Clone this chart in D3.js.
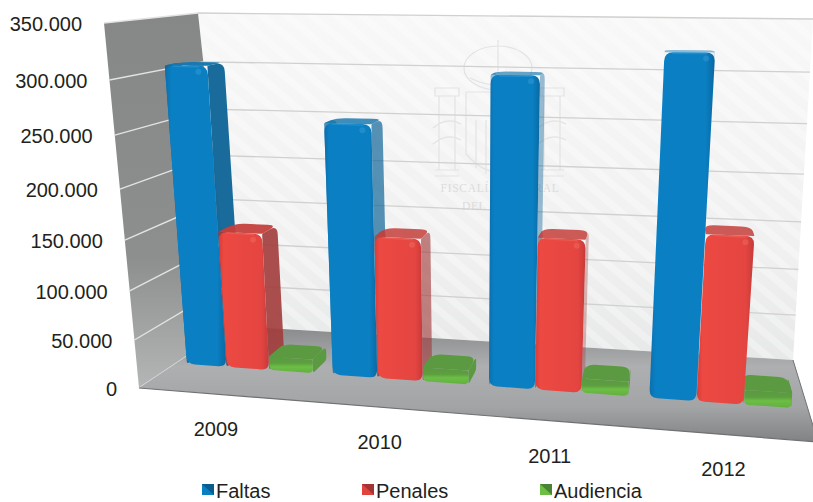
<!DOCTYPE html>
<html><head><meta charset="utf-8">
<script src="https://cdn.jsdelivr.net/npm/d3@7"></script>
<style>html,body{margin:0;padding:0;background:#fff}svg{display:block}text{font-family:"Liberation Sans",Arial,sans-serif}</style>
</head><body><div id="chart"></div>
<script>
const years = ["2009","2010","2011","2012"];
const seriesNames = ["Faltas","Penales","Audiencia"];
const faltas = [307000,255000,302000,323000];
const penales = [144000,146000,152000,162000];
const audiencia = [14500,14500,14500,14500];
const yTicks = [0,50000,100000,150000,200000,250000,300000,350000];
const yTickLabels = ["0","50.000","100.000","150.000","200.000","250.000","300.000","350.000"];

const W=813,H=502;
const svg=d3.select("#chart").append("svg").attr("width",W).attr("height",H).attr("viewBox",[0,0,W,H]);
const defs=svg.append("defs");

// perspective box corners
const C={flb:[139,388],flt:[104,23],blb:[232,326],blt:[198,13],frb:[818,442],frt:[843,22],brb:[793,360],brt:[813,19]};
const lerp=(a,b,t)=>[a[0]+(b[0]-a[0])*t,a[1]+(b[1]-a[1])*t];
function P(u,v,d,lean=0){
  const fb=lerp(C.flb,C.frb,u),ft=lerp(C.flt,C.frt,u),bb=lerp(C.blb,C.brb,u),bt=lerp(C.blt,C.brt,u);
  const b=lerp(fb,bb,d),t=lerp(ft,bt,d),p=lerp(b,t,v);
  return [p[0]+lean*v,p[1]];
}
// vertical foreshortening of the wall
const yScale=d3.scaleLinear().domain(yTicks).range([0,0.1315,0.2658,0.405,0.545,0.693,0.844,1]);
const slot=d3.scalePow().exponent(1.05).domain([0,4]).range([0.017,1.007]);
const xGroup=d3.scaleOrdinal().domain(years).range(d3.range(years.length));
const xSeries=d3.scaleBand().domain(seriesNames).range([0,0.87]).paddingInner(0.01);
const LEAN=8,D0=0.4,D1=0.6;

const poly=pts=>"M"+pts.map(p=>p.join(",")).join("L")+"Z";
function rounded(pts,radii){
  const path=d3.path(),n=pts.length;
  pts.forEach((p,i)=>{
    const a=pts[(i+n-1)%n],b=pts[(i+1)%n],r=Array.isArray(radii)?radii[i]:radii;
    const la=Math.hypot(a[0]-p[0],a[1]-p[1]),lb=Math.hypot(b[0]-p[0],b[1]-p[1]);
    const ra=Math.min(r,la/2)/la,rb=Math.min(r,lb/2)/lb;
    const s=[p[0]+(a[0]-p[0])*ra,p[1]+(a[1]-p[1])*ra],e=[p[0]+(b[0]-p[0])*rb,p[1]+(b[1]-p[1])*rb];
    if(i===0)path.moveTo(s[0],s[1]);else path.lineTo(s[0],s[1]);
    path.quadraticCurveTo(p[0],p[1],e[0],e[1]);
  });
  path.closePath();return path.toString();
}
function grad(id,stops,x2=1,y2=0){
  const g=defs.append("linearGradient").attr("id",id).attr("x1",0).attr("y1",0).attr("x2",x2).attr("y2",y2);
  stops.forEach(s=>g.append("stop").attr("offset",s[0]).attr("stop-color",s[1]));
}
grad("gBlue",[[0,"#0c6fae"],[0.1,"#0a80c4"],[0.86,"#0a7fc2"],[1,"#0b68a2"]]);
grad("gRed",[[0,"#d83c3a"],[0.1,"#ec4942"],[0.85,"#e54540"],[1,"#c53a3a"]]);
grad("gGreen",[[0,"#5b9a40"],[0.4,"#5d9e40"],[0.62,"#6cbe45"],[1,"#62b03f"]],0,1);
grad("gFloor",[[0,"#87898a"],[0.35,"#adafb0"],[0.7,"#a2a4a5"],[1,"#808283"]],0,1);
grad("gLeft",[[0,"#868888"],[0.65,"#8d8f8f"],[1,"#b4b6b6"]],0,1);
grad("gBack",[[0,"#f8f8f8"],[0.7,"#f0f0f0"],[1,"#e7e8e8"]],0,1);
const hatch=defs.append("pattern").attr("id","hatch").attr("width",16).attr("height",16).attr("patternUnits","userSpaceOnUse").attr("patternTransform","rotate(40)");
hatch.append("rect").attr("width",16).attr("height",7).attr("fill","#ffffff").attr("opacity",0.3);

// back wall
const backPts=[C.blt,C.brt,C.brb,C.blb];
svg.append("path").attr("d",poly(backPts)).attr("fill","url(#gBack)");
svg.append("path").attr("d",poly(backPts)).attr("fill","url(#hatch)");

// watermark
const wm=svg.append("g").attr("fill","none").attr("stroke","#e3e3e3").attr("stroke-width",1.2);
wm.append("ellipse").attr("cx",498).attr("cy",68).attr("rx",34).attr("ry",22);
wm.append("path").attr("d","M498 40V90M470 78Q498 92 526 78");
[[447,118],[552,118]].forEach(c=>{
  wm.append("path").attr("d",`M${c[0]-12} ${c[1]-30}h24v8h-24zM${c[0]-8} ${c[1]-22}v74M${c[0]+8} ${c[1]-22}v74M${c[0]-12} ${c[1]+52}h24M${c[0]-12} ${c[1]+58}h24M${c[0]-14} ${c[1]+10}q14 -12 28 -4M${c[0]-14} ${c[1]+26}q14 -12 28 -4`);
});
wm.append("path").attr("d","M466 92h64v62q-32 36 -64 0zM498 92v90M476 120v48M486 120v54M510 120v54M520 120v48");
const wmT=svg.append("g").attr("fill","#dcdcdc").attr("font-size",11.5).attr("text-anchor","middle").attr("letter-spacing",0.7);
wmT.append("text").attr("x",500).attr("y",192).style("font-family","Liberation Serif").text("FISCALÍA GENERAL");
wmT.append("text").attr("x",500).attr("y",210).style("font-family","Liberation Serif").text("DEL ESTADO");

// back gridlines
svg.append("g").selectAll("line").data(yTicks.slice(1)).join("line")
  .attr("x1",d=>P(0,yScale(d),1)[0]).attr("y1",d=>P(0,yScale(d),1)[1])
  .attr("x2",d=>P(1,yScale(d),1)[0]).attr("y2",d=>P(1,yScale(d),1)[1])
  .attr("stroke","#d0d0ce").attr("stroke-width",1.3);

// left wall
svg.append("path").attr("d",poly([C.flt,C.blt,C.blb,C.flb])).attr("fill","url(#gLeft)");
svg.append("g").selectAll("line").data(yTicks).join("line")
  .attr("x1",d=>P(0,yScale(d),0)[0]).attr("y1",d=>P(0,yScale(d),0)[1])
  .attr("x2",d=>P(0,yScale(d),1)[0]).attr("y2",d=>P(0,yScale(d),1)[1])
  .attr("stroke","#e2e3e2").attr("stroke-width",1.4);

// floor
svg.append("path").attr("d",poly([C.blb,C.brb,C.frb,C.flb])).attr("fill","url(#gFloor)");
svg.append("line").attr("x1",C.flb[0]).attr("y1",C.flb[1]).attr("x2",C.frb[0]).attr("y2",C.frb[1]).attr("stroke","#6f7172").attr("stroke-width",1.2);
svg.append("line").attr("x1",C.brb[0]).attr("y1",C.brb[1]).attr("x2",C.frb[0]).attr("y2",C.frb[1]).attr("stroke","#707273").attr("stroke-width",1);

// bars
const seriesValues=[faltas,penales,audiencia];
const styles={Faltas:{front:"url(#gBlue)",side:"#14689a",top:"#1877ad",glow:"#4aa6dc",minTop:0.45},
              Penales:{front:"url(#gRed)",side:"#a23c3c",top:"#c4403c",glow:"#f27a70",minTop:0.85},
              Audiencia:{front:"url(#gGreen)",side:"#5b9a40",top:"#5b9a40",glow:"#7acb55",minTop:1}};
const bars=[];
years.forEach(y=>seriesNames.forEach((s,i)=>{
  const g=xGroup(y),a=xSeries(s),w=xSeries.bandwidth();
  bars.push({y,s,value:seriesValues[i][g],u0:slot(g+a),u1:slot(g+a+w)});
}));
const backLayer=svg.append("g"),frontLayer=svg.append("g");
bars.forEach(b=>{
  const v=yScale(b.value),st=styles[b.s],green=b.s==="Audiencia";
  const sideOp=green?1:Math.max(0,1-b.u0*1.15);
  const topOp=Math.max(st.minTop,1-b.u0*0.7);
  const hull=(u)=>[P(u,0,D0),P(u,0,D1),P(u,v,D1,LEAN),P(u,v,D0,LEAN)];
  const sideR=green?[3,3,4,1]:[3,3,9,1];
  backLayer.append("path").attr("d",rounded(hull(b.u0),sideR)).attr("fill",st.side).attr("fill-opacity",sideOp);
  backLayer.append("path").attr("d",rounded(hull(b.u1),sideR)).attr("fill",st.side).attr("fill-opacity",sideOp);
  backLayer.append("path").attr("d",rounded([P(b.u0,v,D0,LEAN),P(b.u0,v,D1,LEAN),P(b.u1,v,D1,LEAN),P(b.u1,v,D0,LEAN)],green?[1,9,9,1]:[1,10,10,1]))
    .attr("fill",st.top).attr("fill-opacity",topOp);
  const f=[P(b.u0,0,D0),P(b.u0,v,D0,LEAN),P(b.u1,v,D0,LEAN),P(b.u1,0,D0)];
  frontLayer.append("path").attr("d",rounded(f,green?[5,2,2,5]:[8,9,9,8])).attr("fill",st.front);
  if(!green){
    const tl=P(b.u0,v,D0,LEAN),tr=P(b.u1,v,D0,LEAN);
    frontLayer.append("ellipse").attr("cx",tr[0]-9).attr("cy",tr[1]+6).attr("rx",3).attr("ry",3).attr("fill",st.glow).attr("opacity",0.35);
    frontLayer.append("path").attr("d",`M${tl[0]+8} ${tl[1]+1}L${tr[0]-8} ${tr[1]+1}`).attr("stroke",st.glow).attr("stroke-opacity",0.35).attr("stroke-width",1.5);
  }
});

// y tick labels
const txt="#231f20";
svg.append("g").selectAll("text").data(yTicks).join("text")
  .attr("x",d=>P(0,yScale(d),0)[0]-22).attr("y",d=>P(0,yScale(d),0)[1]+1)
  .attr("dy","0.35em").attr("text-anchor","end").attr("font-size",20).attr("fill",txt)
  .text((d,i)=>yTickLabels[i]);

// category labels
svg.append("g").selectAll("text").data(years).join("text")
  .attr("x",d=>P(slot(xGroup(d)+0.435),0,0)[0]).attr("y",d=>P(slot(xGroup(d)+0.435),0,0)[1]+35)
  .attr("dy","0.35em").attr("text-anchor","middle").attr("font-size",20).attr("fill",txt).text(d=>d);

// legend
const legendX=d3.scaleOrdinal().domain(seriesNames).range([202,362,540]);
const legendC={Faltas:["#0a7fc2","#0b4f7c"],Penales:["#e0443e","#8f2f30"],Audiencia:["#6cbe45","#3e6f30"]};
const lg=svg.append("g").selectAll("g").data(seriesNames).join("g").attr("transform",d=>`translate(${legendX(d)},484)`);
lg.append("rect").attr("width",12).attr("height",11).attr("fill",d=>legendC[d][0]);
lg.append("path").attr("d","M12 0L6 5.5L12 11Z M0 0L6 5.5L12 0Z").attr("fill",d=>legendC[d][1]).attr("fill-opacity",0.75);
lg.append("text").attr("x",14).attr("y",13.5).attr("font-size",20).attr("fill",txt).text(d=>d);
</script></body></html>
